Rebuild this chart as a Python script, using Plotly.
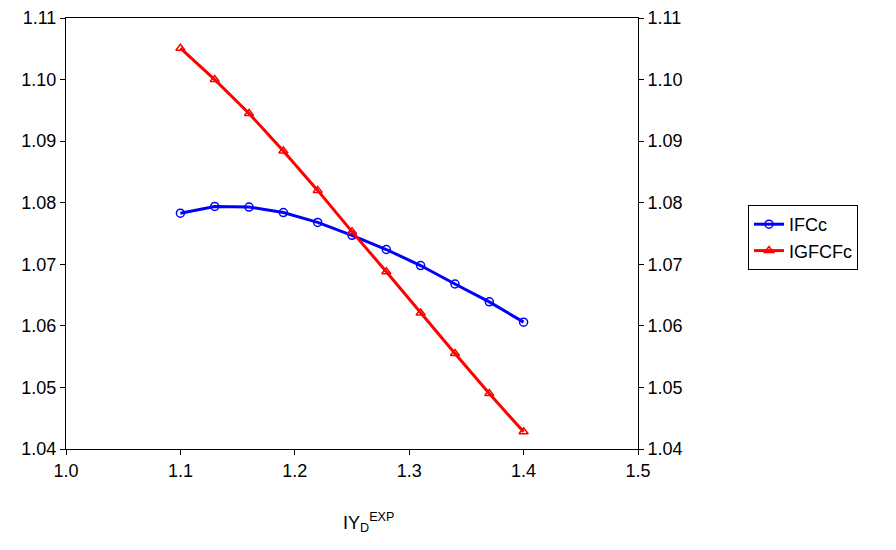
import plotly.graph_objects as go

x = [1.10, 1.13, 1.16, 1.19, 1.22, 1.25, 1.28, 1.31, 1.34, 1.37, 1.40]
ifcc = [1.0783, 1.0794, 1.0793, 1.0784, 1.0768, 1.0747, 1.0724, 1.0698, 1.0668, 1.0639, 1.0606]
igfcfc = [1.1051, 1.1000, 1.0945, 1.0884, 1.0820, 1.0753, 1.0688, 1.0621, 1.0555, 1.0490, 1.0428]
yticks = [1.04, 1.05, 1.06, 1.07, 1.08, 1.09, 1.10, 1.11]
xticks = [1.0, 1.1, 1.2, 1.3, 1.4, 1.5]

fig = go.Figure()
fig.add_trace(go.Scatter(x=x, y=ifcc, name="IFCc", mode="lines+markers",
    line=dict(color="#0000ff", width=3),
    marker=dict(symbol="circle-open", size=8, color="#0000ff", line=dict(width=1.5))))
fig.add_trace(go.Scatter(x=x, y=igfcfc, name="IGFCFc", mode="lines+markers",
    line=dict(color="#ff0000", width=3),
    marker=dict(symbol="triangle-up-open", size=8, color="#ff0000", line=dict(width=1.5))))
fig.add_trace(go.Scatter(x=[x[0]], y=[ifcc[0]], yaxis="y2", showlegend=False,
    mode="markers", marker=dict(opacity=0), hoverinfo="skip"))

ax = dict(showgrid=False, zeroline=False, showline=True, linecolor="black", linewidth=1,
          ticks="outside", ticklen=5, tickcolor="black", automargin=False)
fig.update_layout(
    width=896, height=550, paper_bgcolor="white", plot_bgcolor="white",
    font=dict(family="Liberation Sans, Arial", size=18, color="black"),
    margin=dict(l=58, r=266, t=10, b=109, autoexpand=False),
    xaxis=dict(range=[1.0, 1.5], tickvals=xticks, ticktext=[f"{v:.1f}" for v in xticks],
               mirror=True, **ax),
    yaxis=dict(range=[1.04, 1.11], tickvals=yticks, ticktext=[f"{v:.2f}" for v in yticks], **ax),
    yaxis2=dict(range=[1.04, 1.11], tickvals=yticks, ticktext=[f"{v:.2f}" for v in yticks],
                overlaying="y", side="right", **ax),
    legend=dict(x=740/896, y=1-197/550, xref="container", yref="container",
                xanchor="left", yanchor="top", bordercolor="black", borderwidth=1,
                font=dict(size=18), tracegroupgap=0),
    annotations=[dict(text="IY<sub>D</sub><sup>EXP</sup>", x=(370-68)/572, y=-(535-448)/428,
                      xref="paper", yref="paper", showarrow=False, font=dict(size=18))],
)
fig.write_html("out.html")
